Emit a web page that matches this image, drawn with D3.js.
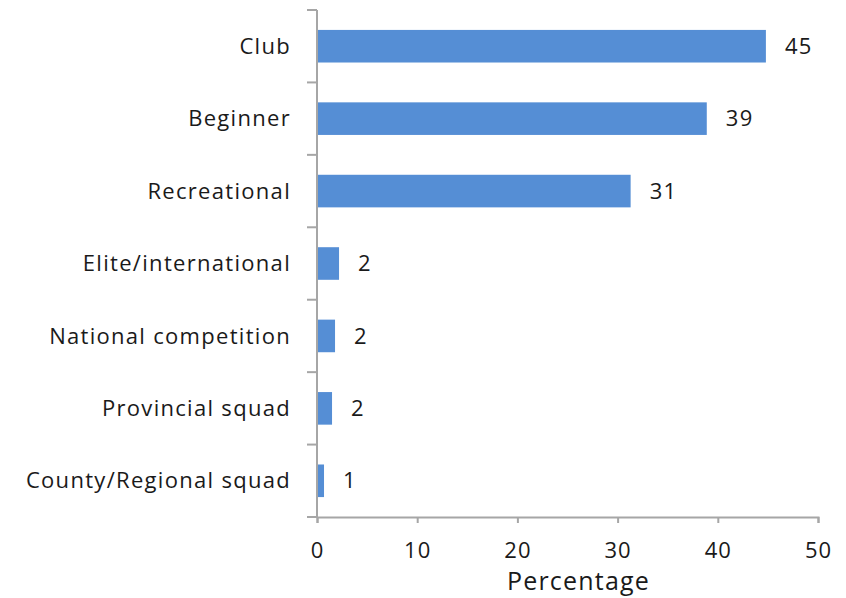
<!DOCTYPE html>
<html>
<head>
<meta charset="utf-8">
<script src="https://cdn.jsdelivr.net/npm/d3@7"></script>
<style>
  body { margin: 0; background: #fff; }
  text { font-family: "Open Sans", sans-serif; fill: #1a1a1a; }
</style>
</head>
<body>
<div id="container"></div>
<script>
// les catégories, de haut en bas
const categories = [
    "Club",
    "Beginner",
    "Recreational",
    "Elite/international",
    "National competition",
    "Provincial squad",
    "County/Regional squad"
];
// valeurs (longueur des barres)
const values = [44.8, 38.9, 31.3, 2.2, 1.8, 1.5, 0.7];
// étiquettes affichées à droite des barres
const valueLabels = ["45", "39", "31", "2", "2", "2", "1"];
const xTicks = [0, 10, 20, 30, 40, 50];

const width = 846;
const height = 598;
const margin = {top: 10, right: 28, bottom: 81, left: 317};

const svg = d3.create("svg")
    .attr("width", width)
    .attr("height", height);

const x = d3.scaleLinear()
    .domain([0, 50])
    .range([margin.left, width - margin.right]);

const y = d3.scaleBand()
    .domain(categories)
    .range([margin.top, height - margin.bottom])
    .paddingInner(0.55)
    .paddingOuter(0.275);

const axisColor = "#a6a6a6";

// barres
svg.append("g")
    .selectAll("rect")
    .data(categories)
    .join("rect")
    .attr("x", x(0))
    .attr("y", d => y(d))
    .attr("width", (d, i) => x(values[i]) - x(0))
    .attr("height", y.bandwidth())
    .attr("fill", "#558ed5");

// axe x
const xAxis = svg.append("g")
    .attr("transform", `translate(0,${height - margin.bottom})`)
    .call(d3.axisBottom(x).tickValues(xTicks).tickSize(6).tickSizeOuter(6).tickPadding(19));
xAxis.select(".domain").attr("stroke", axisColor).attr("stroke-width", 2);
xAxis.selectAll(".tick line").attr("stroke", axisColor).attr("stroke-width", 2);
xAxis.selectAll(".tick text")
    .attr("font-size", 22)
    .attr("letter-spacing", 1)
    .attr("fill", "#1a1a1a")
    .attr("font-family", "'Open Sans', sans-serif");

// axe y : les graduations sont entre les catégories
const yAxis = svg.append("g")
    .attr("transform", `translate(${margin.left},0)`);
yAxis.append("line")
    .attr("x1", 0).attr("x2", 0)
    .attr("y1", margin.top).attr("y2", height - margin.bottom)
    .attr("stroke", axisColor).attr("stroke-width", 2);
const yEdges = d3.range(categories.length + 1)
    .map(i => margin.top + i * (height - margin.bottom - margin.top) / categories.length);
yAxis.selectAll("line.tick")
    .data(yEdges)
    .join("line")
    .attr("class", "tick")
    .attr("x1", -10).attr("x2", 0)
    .attr("y1", d => d).attr("y2", d => d)
    .attr("stroke", axisColor).attr("stroke-width", 2);

// libellés des catégories
svg.append("g")
    .selectAll("text")
    .data(categories)
    .join("text")
    .attr("x", margin.left - 26)
    .attr("y", d => y(d) + y.bandwidth() / 2)
    .attr("dy", "0.35em")
    .attr("text-anchor", "end")
    .attr("font-size", 22)
    .attr("letter-spacing", 1.3)
    .text(d => d);

// étiquettes de valeurs
svg.append("g")
    .selectAll("text")
    .data(categories)
    .join("text")
    .attr("x", (d, i) => x(values[i]) + 19)
    .attr("y", d => y(d) + y.bandwidth() / 2)
    .attr("dy", "0.35em")
    .attr("font-size", 22)
    .attr("letter-spacing", 1.3)
    .text((d, i) => valueLabels[i]);

// titre de l'axe (un peu décalé à droite, comme dans excel)
svg.append("text")
    .attr("x", (x(0) + x(50)) / 2 + 11)
    .attr("y", 590)
    .attr("text-anchor", "middle")
    .attr("font-size", 25)
    .attr("letter-spacing", 1.2)
    .text("Percentage");

d3.select("#container").node().append(svg.node());
</script>
</body>
</html>
